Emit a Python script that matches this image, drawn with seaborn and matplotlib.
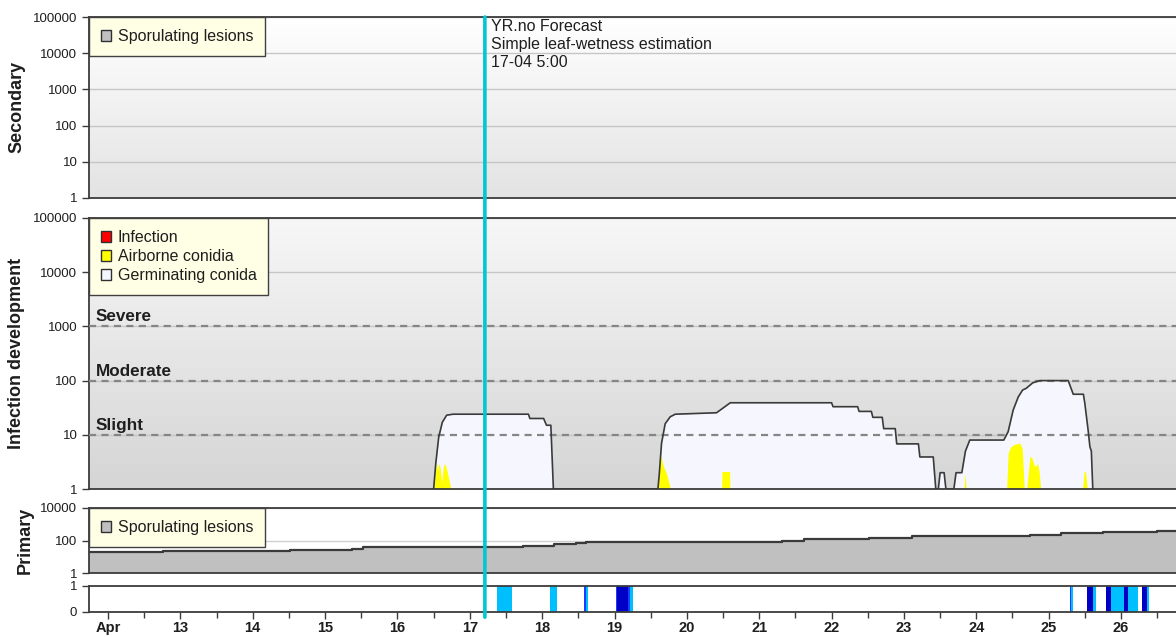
import matplotlib
matplotlib.use("Agg")
import numpy as np
import pandas as pd
import matplotlib.pyplot as plt
import seaborn as sns
from matplotlib.patches import Patch, ConnectionPatch
from matplotlib.colors import LinearSegmentedColormap
from matplotlib.ticker import FixedLocator, NullLocator, FixedFormatter

# ---------------------------------------------------------------- data
day_ticks = [12, 13, 14, 15, 16, 17, 18, 19, 20, 21, 22, 23, 24, 25, 26]
day_labels = ["Apr", "13", "14", "15", "16", "17", "18", "19", "20", "21",
              "22", "23", "24", "25", "26"]
x_range = [11.737, 26.76]

forecast_time = 17 + 5 / 24
forecast_text = ["YR.no Forecast", "Simple leaf-wetness estimation", "17-04 5:00"]

log5_ticks = [1, 10, 100, 1000, 10000, 100000]
log5_labels = ["1", "10", "100", "1000", "10000", "100000"]
primary_ticks = [1, 100, 10000]
primary_labels = ["1", "100", "10000"]
wet_ticks = [0, 1]
wet_labels = ["0", "1"]

risk_levels = [10, 100, 1000]
risk_names = ["Slight", "Moderate", "Severe"]

# Germinating conidia (infection development)
germ_time = [16.50, 16.53, 16.57, 16.62, 16.68, 16.77, 17.81, 17.83, 18.02, 18.06, 18.12, 18.155,
             19.60, 19.62, 19.65, 19.70, 19.77, 19.84, 20.41, 20.60, 22.00, 22.02, 22.36, 22.38,
             22.55, 22.57, 22.70, 22.72, 22.88, 22.90, 23.20, 23.22, 23.405, 23.44,
             23.475, 23.50, 23.555, 23.58,
             23.69, 23.72, 23.80, 23.85, 23.91, 24.38, 24.44, 24.51, 24.58, 24.64, 24.69, 24.78,
             24.88, 25.27, 25.34, 25.48, 25.50, 25.545, 25.57, 25.59, 25.61]
germ_value = [1, 3, 9, 17, 23, 24, 24, 20, 20, 15, 15, 1,
              1, 2, 7, 16, 21.5, 24, 25.5, 39, 39, 33, 33, 27,
              27, 21, 21, 13, 13, 6.8, 6.8, 3.9, 3.9, 1,
              1, 2, 2, 1,
              1, 2, 2, 5, 8, 8, 11.4, 28.7, 50, 67, 72, 91,
              100, 100, 56, 56, 38, 12.3, 6, 5, 1]

# Airborne conidia
air_time = [16.505, 16.52, 16.54, 16.555, 16.57, 16.59, 16.61, 16.625, 16.645, 16.67, 16.69, 16.74,
            19.605, 19.625, 19.645, 19.67, 19.70, 19.72, 19.775,
            20.48, 20.485, 20.59, 20.595,
            23.83, 23.845, 23.86,
            24.42, 24.44, 24.475, 24.53, 24.595, 24.605, 24.635, 24.663, 24.696, 24.74, 24.765,
            24.797, 24.82, 24.848, 24.87, 24.889,
            25.47, 25.49, 25.51, 25.534]
air_value = [1, 2, 3, 2.2, 3, 2.5, 1.3, 2, 3, 2.6, 2, 1,
             1, 4, 3.9, 2.8, 2.2, 1.9, 1,
             1, 2.1, 2.1, 1,
             1, 2, 1,
             1, 4.6, 6.0, 6.7, 7.0, 6.9, 5.6, 1, 1, 3.95, 3.9,
             2.8, 2.6, 3.0, 2.0, 1,
             1, 2.1, 2.1, 1]

# Primary sporulating lesions (step series)
prim_time = [11.70, 12.756, 14.515, 15.372, 15.52, 17.735, 18.164, 18.468, 18.606, 21.315,
             21.62, 22.517, 23.111, 24.742, 25.17, 25.75, 26.497, 26.80]
prim_value = [21, 23, 27, 32, 40, 48, 61, 74, 85, 98,
              119, 146, 183, 225, 271, 330, 380, 380]

# Leaf wetness strip
wet_start = [17.376, 18.113, 18.583, 18.600, 19.020, 19.040, 19.190, 19.220,
             25.295, 25.310, 25.534, 25.610, 25.787, 25.861, 26.040, 26.100, 26.285, 26.354]
wet_end = [17.583, 18.200, 18.600, 18.630, 19.040, 19.190, 19.220, 19.260,
           25.310, 25.340, 25.610, 25.660, 25.861, 26.040, 26.100, 26.240, 26.354, 26.390]
wet_level = [1, 1, 2, 1, 2, 3, 2, 1,
             2, 1, 3, 1, 3, 1, 3, 1, 3, 1]
wet_colors = {1: "#00bfff", 2: "#1a3cff", 3: "#0000c4"}

# ---------------------------------------------------------------- style
sns.set_theme(style="white")
plt.rcParams["font.family"] = ["Liberation Sans", "DejaVu Sans"]

W, H = 1176, 637
fig = plt.figure(figsize=(W / 100, H / 100), dpi=100)
fig.patch.set_facecolor("white")

EDGE = "#3c3c3c"
TXT = "#1e1e1e"


def panel(left, top, right, bottom, grad=None):
    rect = [left / W, 1 - bottom / H, (right - left) / W, (bottom - top) / H]
    if grad is not None:
        bg = fig.add_axes(rect, zorder=0)
        bg.set_axis_off()
        cmap = LinearSegmentedColormap.from_list("bg", grad)
        bg.imshow(np.linspace(0, 1, 256)[:, None], aspect="auto", cmap=cmap,
                  extent=[0, 1, 0, 1], origin="upper", interpolation="bilinear")
        bg.set_xlim(0, 1)
        bg.set_ylim(0, 1)
    ax = fig.add_axes(rect, zorder=1)
    if grad is not None:
        ax.patch.set_alpha(0)
    else:
        ax.set_facecolor("white")
    return ax


def style(ax, ticks, labels, ylim, log=True):
    ax.set_xlim(*x_range)
    if log:
        ax.set_yscale("log")
    ax.set_ylim(*ylim)
    ax.yaxis.set_major_locator(FixedLocator(ticks))
    ax.yaxis.set_major_formatter(FixedFormatter(labels))
    ax.yaxis.set_minor_locator(NullLocator())
    ax.tick_params(axis="y", which="major", left=True, direction="out", length=5,
                   width=1, color=EDGE, labelsize=9.5, labelcolor=TXT, pad=3.4)
    ax.tick_params(axis="x", which="both", bottom=False, labelbottom=False)
    for s in ["top", "left", "bottom"]:
        ax.spines[s].set_visible(True)
        ax.spines[s].set_color(EDGE)
        ax.spines[s].set_linewidth(1.3)
    ax.spines["right"].set_visible(False)
    ax.set_axisbelow(True)
    ax.set_xlabel("")
    ax.set_ylabel("")


def box_legend(ax, labels, colors):
    handles = [Patch(facecolor=c, edgecolor="#303030", linewidth=1.0, label=l)
               for l, c in zip(labels, colors)]
    leg = ax.legend(handles=handles, loc="upper left", bbox_to_anchor=(0, 1),
                    borderaxespad=0, fancybox=False, framealpha=1, facecolor="#ffffe6",
                    edgecolor="#404040", fontsize=11.5, handlelength=0.62,
                    handleheight=0.62, handletextpad=0.42, borderpad=0.75,
                    labelspacing=0.25)
    leg.get_frame().set_linewidth(1.0)
    for t in leg.get_texts():
        t.set_color(TXT)
    leg.set_zorder(10)
    return leg


ax_sec = panel(89, 17, 1176, 198, grad=["#ffffff", "#e3e3e3"])
ax_inf = panel(89, 218, 1176, 489, grad=["#f7f7f7", "#d5d5d5"])
ax_pri = panel(89, 508, 1176, 573)
ax_wet = panel(89, 586, 1176, 612)

# ---------------------------------------------------------------- secondary
style(ax_sec, log5_ticks, log5_labels, (1, 100000))
ax_sec.yaxis.grid(True, color="#c6c6c6", lw=1.0)
box_legend(ax_sec, ["Sporulating lesions"], ["#c0c0c0"])
for i, line in enumerate(forecast_text):
    ax_sec.annotate(line, xy=(forecast_time, 1.0), xycoords=ax_sec.get_xaxis_transform(),
                    xytext=(6, -14 - 18 * i), textcoords="offset pixels", fontsize=11.5,
                    color=TXT, va="baseline", ha="left")

# ---------------------------------------------------------------- infection development
style(ax_inf, log5_ticks, log5_labels, (1, 100000))
ax_inf.yaxis.grid(True, color="#c6c6c6", lw=1.0)
ax_inf.fill_between(germ_time, 1, germ_value, color="#f6f7fe", lw=0, zorder=2)
ax_inf.fill_between(air_time, 1, air_value, color="#ffff00", lw=0, zorder=2.5)
for lvl, name in zip(risk_levels, risk_names):
    ax_inf.axhline(lvl, color="#858585", lw=1.6, ls=(0, (3.2, 2.4)), zorder=3.5)
    ax_inf.annotate(name, xy=(0, lvl), xycoords=ax_inf.get_yaxis_transform(),
                    xytext=(7, 5), textcoords="offset pixels", fontsize=12.3,
                    fontweight="bold", color=TXT, va="baseline", ha="left")
sns.lineplot(x=germ_time, y=germ_value, ax=ax_inf, color="#3a3a3a", lw=1.2,
             estimator=None, sort=False, zorder=4)
box_legend(ax_inf, ["Infection", "Airborne conidia", "Germinating conida"],
           ["#ff0000", "#ffff00", "#f4f6ff"])
ax_inf.set_xlim(*x_range)
ax_inf.set_ylim(1, 100000)
ax_inf.set_xlabel("")
ax_inf.set_ylabel("")

# ---------------------------------------------------------------- primary
style(ax_pri, primary_ticks, primary_labels, (1, 10000))
ax_pri.yaxis.grid(True, color="#cfcfcf", lw=1.0)
ax_pri.fill_between(prim_time, 1, prim_value, step="post", color="#c0c0c0", lw=0, zorder=2)
sns.lineplot(x=prim_time, y=prim_value, ax=ax_pri, drawstyle="steps-post", color="#3a3a3a",
             lw=1.6, estimator=None, sort=False, zorder=3)
box_legend(ax_pri, ["Sporulating lesions"], ["#c0c0c0"])
ax_pri.set_xlim(*x_range)
ax_pri.set_ylim(1, 10000)
ax_pri.set_xlabel("")
ax_pri.set_ylabel("")

# ---------------------------------------------------------------- wetness strip
style(ax_wet, wet_ticks, wet_labels, (0, 1), log=False)
wet_df = pd.DataFrame({"start": wet_start, "end": wet_end, "level": wet_level})
ax_wet.bar(wet_df["start"], 1, width=wet_df["end"] - wet_df["start"], align="edge",
           color=[wet_colors[l] for l in wet_df["level"]], lw=0, zorder=2)
ax_wet.set_xlim(*x_range)
ax_wet.set_ylim(0, 1)
ax_wet.xaxis.set_major_locator(FixedLocator(day_ticks))
ax_wet.xaxis.set_major_formatter(FixedFormatter(day_labels))
ax_wet.xaxis.set_minor_locator(FixedLocator([d + 0.5 for d in day_ticks]))
ax_wet.tick_params(axis="x", which="major", bottom=True, labelbottom=True, direction="out",
                   length=5, width=1, color=EDGE, labelsize=10.5, labelcolor=TXT, pad=1.5)
ax_wet.tick_params(axis="x", which="minor", bottom=True, direction="out", length=4,
                   width=1, color=EDGE)
for lab in ax_wet.get_xticklabels():
    lab.set_fontweight("bold")
    lab.set_family(["Liberation Sans Narrow", "Liberation Sans", "DejaVu Sans"])

# ---------------------------------------------------------------- forecast line
con = ConnectionPatch(xyA=(forecast_time, 1.0), coordsA=ax_sec.get_xaxis_transform(),
                      xyB=(forecast_time, -0.2), coordsB=ax_wet.get_xaxis_transform(),
                      color="#00c8d2", lw=2.6, zorder=20)
fig.add_artist(con)

# ---------------------------------------------------------------- axis titles
fig.text(17 / W, 1 - 107 / H, "Secondary", rotation=90, ha="center", va="center",
         fontsize=13, fontweight="bold", color=TXT)
fig.text(17 / W, 1 - 353 / H, "Infection development", rotation=90, ha="center",
         va="center", fontsize=13, fontweight="bold", color=TXT)
fig.text(25 / W, 1 - 540 / H, "Primary", rotation=90, ha="center", va="center",
         fontsize=13, fontweight="bold", color=TXT)

fig.savefig("out.png", dpi=100, facecolor="white")
